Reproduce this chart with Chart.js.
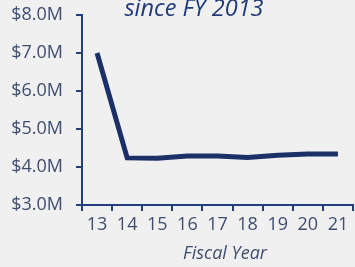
<!DOCTYPE html>
<html>
<head>
<meta charset="utf-8">
<script src="https://cdn.jsdelivr.net/npm/chart.js@4"></script>
<style>
  html, body { margin: 0; padding: 0; background: #f0f0f0; }
  #wrap { width: 355px; height: 267px; position: relative; }
</style>
</head>
<body>
<div id="wrap"><canvas id="costChart"></canvas></div>
<script>
// Chart data
const years = ['13', '14', '15', '16', '17', '18', '19', '20', '21'];
const costs = [7.0, 4.24, 4.23, 4.29, 4.29, 4.25, 4.31, 4.34, 4.34];
const yTicks = [3, 4, 5, 6, 7, 8];

const navy = '#1c3068';
const axisBlue = '#23407e';
const labelGray = '#3f4d6e';

// Title at the top (clipped in the original) and the x axis caption
const textPlugin = {
    id: 'extraText',
    afterDraw(chart) {
        const ctx = chart.ctx;
        ctx.save();
        ctx.textAlign = 'center';
        ctx.textBaseline = 'alphabetic';
        ctx.fillStyle = '#1f3a78';
        ctx.font = 'italic 23.5px "Open Sans"';
        ctx.fillText('since FY 2013', 194, 16);
        ctx.fillStyle = labelGray;
        ctx.font = 'italic 18px "Open Sans"';
        ctx.textBaseline = 'middle';
        ctx.fillText('Fiscal Year', 225, 254);
        ctx.restore();
    }
};

new Chart(document.getElementById('costChart').getContext('2d'), {
    type: 'line',
    data: {
        labels: years,
        datasets: [{
            data: costs,
            borderColor: navy,
            borderWidth: 5,
            pointRadius: 0,
            tension: 0,
            fill: false
        }]
    },
    plugins: [textPlugin],
    options: {
        responsive: true,
        maintainAspectRatio: false,
        animation: false,
        layout: { padding: { top: 15, right: 2, left: 0, bottom: 0 } },
        plugins: {
            legend: { display: false },
            tooltip: { enabled: false }
        },
        scales: {
            x: {
                offset: true,
                grid: {
                    offset: true,
                    drawOnChartArea: false,
                    drawTicks: true,
                    tickLength: 6,
                    color: axisBlue,
                    lineWidth: 2
                },
                border: { color: axisBlue, width: 2 },
                ticks: {
                    color: labelGray,
                    font: { family: 'Open Sans', size: 18 },
                    padding: 3,
                    maxRotation: 0
                },
                afterFit(scale) {
                    scale.height = 62;
                    scale.paddingLeft = 0;
                    scale.paddingRight = 0;
                }
            },
            y: {
                min: 3,
                max: 8,
                afterBuildTicks(scale) {
                    scale.ticks = yTicks.map(v => ({ value: v }));
                },
                grid: {
                    drawOnChartArea: false,
                    drawTicks: true,
                    tickLength: 6,
                    color: axisBlue,
                    lineWidth: 2
                },
                border: { color: axisBlue, width: 2 },
                ticks: {
                    color: labelGray,
                    font: { family: 'Open Sans', size: 18 },
                    padding: 13,
                    callback: function (value) {
                        return '$' + value.toFixed(1) + 'M';
                    }
                },
                afterFit(scale) {
                    scale.width = 82;
                    scale.paddingTop = 0;
                    scale.paddingBottom = 0;
                }
            }
        }
    }
});
</script>
</body>
</html>
